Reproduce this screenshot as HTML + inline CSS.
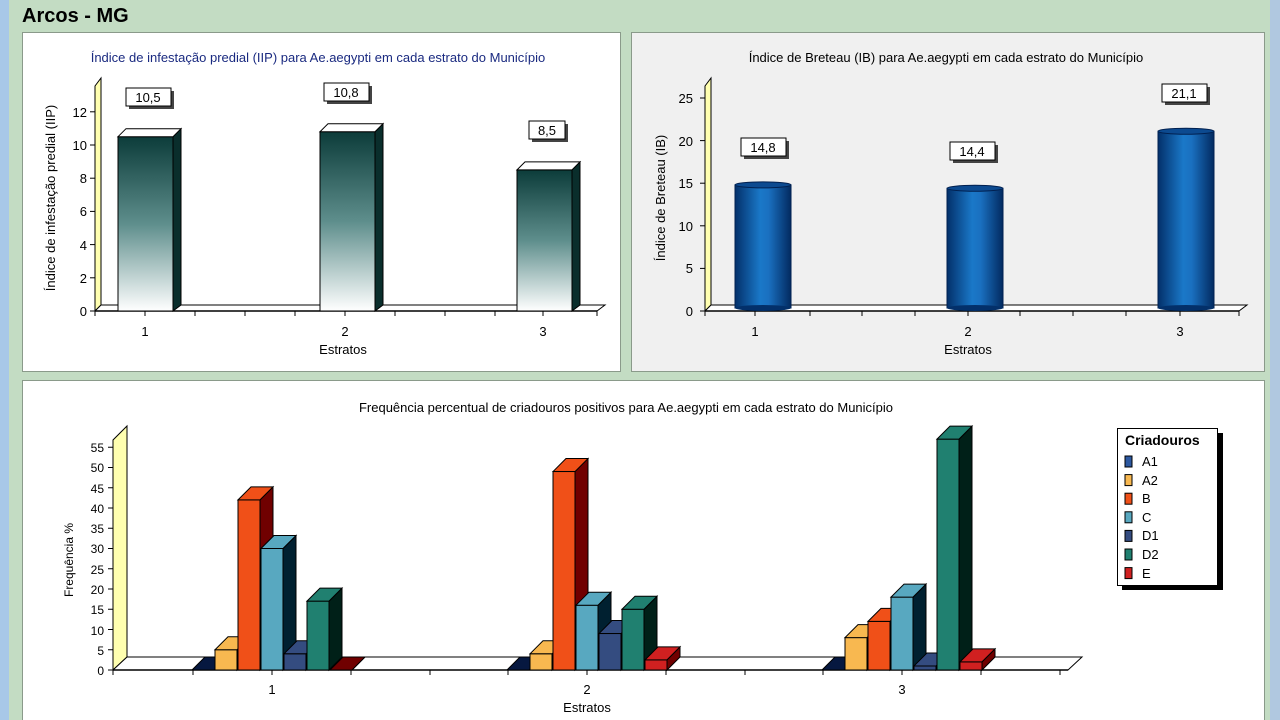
<!DOCTYPE html>
<html><head><meta charset="utf-8"><style>
body{margin:0;width:1280px;height:720px;overflow:hidden;background:#c3dcc3;font-family:"Liberation Sans",sans-serif}
svg{position:absolute;left:0;top:0}
</style></head><body>
<svg width="1280" height="720" viewBox="0 0 1280 720" font-family="Liberation Sans, sans-serif">
<defs>
<linearGradient id="tg" x1="0" y1="0" x2="0" y2="1"><stop offset="0" stop-color="#0c3c3a"/><stop offset="0.5" stop-color="#5e8e8c"/><stop offset="1" stop-color="#ffffff"/></linearGradient>
<linearGradient id="bg" x1="0" y1="0" x2="1" y2="0"><stop offset="0" stop-color="#03306a"/><stop offset="0.45" stop-color="#1a78c8"/><stop offset="0.6" stop-color="#1a70c0"/><stop offset="1" stop-color="#022a60"/></linearGradient>
</defs>
<rect x="0" y="0" width="9" height="720" fill="#a8c8e8"/>
<rect x="1270" y="0" width="10" height="720" fill="#b0c8e0"/>
<text x="22" y="22" font-size="20" font-weight="bold" fill="#000">Arcos - MG</text>
<rect x="22.5" y="32.5" width="598" height="339" fill="#fff" stroke="#8a9a8a"/>
<rect x="631.5" y="32.5" width="633" height="339" fill="#f0f0f0" stroke="#8a9a8a"/>
<rect x="22.5" y="380.5" width="1242" height="345" fill="#fff" stroke="#8a9a8a"/>

<text x="318" y="62" font-size="13" fill="#1a2a80" text-anchor="middle">Índice de infestação predial (IIP) para Ae.aegypti em cada estrato do Município</text>
<polygon points="95,311 95,86 101,78 101,305" fill="#ffffb0" stroke="#000"/>
<polygon points="95,311 101,305 605,305 597,311" fill="#fff" stroke="#000"/>
<line x1="95" y1="311" x2="597" y2="311" stroke="#000" stroke-width="1.5"/>
<g font-size="13" text-anchor="end">
<text x="87" y="316">0</text><text x="87" y="283">2</text><text x="87" y="250">4</text><text x="87" y="216">6</text><text x="87" y="183">8</text><text x="87" y="150">10</text><text x="87" y="117">12</text></g>
<text transform="translate(55,198) rotate(-90)" font-size="13" text-anchor="middle">Índice de infestação predial (IIP)</text>
<g font-size="13" text-anchor="middle"><text x="145" y="336">1</text><text x="345" y="336">2</text><text x="543" y="336">3</text><text x="343" y="354">Estratos</text></g>
<g id="t1" stroke="#000"></g>
<g id="c1"></g>
<g font-size="13" text-anchor="middle">
<rect x="129" y="91" width="45" height="18" fill="#444"/><rect x="126" y="88" width="45" height="18" fill="#fff" stroke="#000"/><text x="148" y="102">10,5</text>
<rect x="327" y="86" width="45" height="18" fill="#444"/><rect x="324" y="83" width="45" height="18" fill="#fff" stroke="#000"/><text x="346" y="97">10,8</text>
<rect x="532" y="124" width="36" height="18" fill="#444"/><rect x="529" y="121" width="36" height="18" fill="#fff" stroke="#000"/><text x="547" y="135">8,5</text></g>

<text x="946" y="62" font-size="13" fill="#000" text-anchor="middle">Índice de Breteau (IB) para Ae.aegypti em cada estrato do Município</text>
<polygon points="705,311 705,86 711,78 711,305" fill="#ffffb0" stroke="#000"/>
<polygon points="705,311 711,305 1247,305 1239,311" fill="#fff" stroke="#000"/>
<line x1="705" y1="311" x2="1239" y2="311" stroke="#000" stroke-width="1.5"/>
<g font-size="13" text-anchor="end">
<text x="693" y="316">0</text><text x="693" y="273">5</text><text x="693" y="231">10</text><text x="693" y="188">15</text><text x="693" y="146">20</text><text x="693" y="103">25</text></g>
<text transform="translate(665,198) rotate(-90)" font-size="13" text-anchor="middle">Índice de Breteau (IB)</text>
<g font-size="13" text-anchor="middle"><text x="755" y="336">1</text><text x="968" y="336">2</text><text x="1180" y="336">3</text><text x="968" y="354">Estratos</text></g>
<g id="c2"></g>
<g font-size="13" text-anchor="middle">
<rect x="744" y="141" width="45" height="18" fill="#444"/><rect x="741" y="138" width="45" height="18" fill="#fff" stroke="#000"/><text x="763" y="152">14,8</text>
<rect x="953" y="145" width="45" height="18" fill="#444"/><rect x="950" y="142" width="45" height="18" fill="#fff" stroke="#000"/><text x="972" y="156">14,4</text>
<rect x="1165" y="87" width="45" height="18" fill="#444"/><rect x="1162" y="84" width="45" height="18" fill="#fff" stroke="#000"/><text x="1184" y="98">21,1</text></g>

<text x="626" y="412" font-size="13" text-anchor="middle">Frequência percentual de criadouros positivos para Ae.aegypti em cada estrato do Município</text>
<polygon points="113,670 113,440 127,426 127,657" fill="#ffffb0" stroke="#000"/>
<polygon points="113,670 127,657 1082,657 1068,670" fill="#fff" stroke="#000"/>
<line x1="113" y1="670" x2="1068" y2="670" stroke="#000" stroke-width="1.5"/>
<g font-size="12" text-anchor="end">
<text x="104" y="675">0</text><text x="104" y="655">5</text><text x="104" y="635">10</text><text x="104" y="614">15</text><text x="104" y="594">20</text><text x="104" y="574">25</text><text x="104" y="553">30</text><text x="104" y="533">35</text><text x="104" y="513">40</text><text x="104" y="493">45</text><text x="104" y="472">50</text><text x="104" y="452">55</text></g>
<text transform="translate(73,560) rotate(-90)" font-size="12" text-anchor="middle">Frequência %</text>
<g font-size="13" text-anchor="middle"><text x="272" y="694">1</text><text x="587" y="694">2</text><text x="902" y="694">3</text><text x="587" y="712">Estratos</text></g>
<g id="c3"></g>
<rect x="1122" y="433" width="101" height="157" fill="#000"/>
<rect x="1117.5" y="428.5" width="100" height="157" fill="#fff" stroke="#000"/>
<text x="1125" y="445" font-size="14" font-weight="bold">Criadouros</text>
<g font-size="13" id="lg">
<text x="1142" y="466">A1</text><text x="1142" y="485">A2</text><text x="1142" y="503">B</text><text x="1142" y="522">C</text><text x="1142" y="540">D1</text><text x="1142" y="559">D2</text><text x="1142" y="578">E</text></g>
</svg>
<script>
var NS="http://www.w3.org/2000/svg";
function el(p,t,a){var e=document.createElementNS(NS,t);for(var k in a)e.setAttribute(k,a[k]);p.appendChild(e);return e;}
var svg=document.querySelector('svg');
var tk=el(svg,'g',{stroke:'#000','stroke-width':1});
function tick(x1,y1,x2,y2){el(tk,'line',{x1:x1,y1:y1,x2:x2,y2:y2});}
for(var v=0;v<=12;v+=2)tick(90,311-v*16.6,95,311-v*16.6);
for(var v=0;v<=25;v+=5)tick(700,311-v*8.52,705,311-v*8.52);
for(var v=0;v<=55;v+=5)tick(108,670-v*4.05,113,670-v*4.05);
[95,145,195,245,295,345,395,445,495,543,597].forEach(function(x){tick(x,311,x,316);});
[705,755,810,862,915,968,1020,1073,1126,1180,1239].forEach(function(x){tick(x,311,x,316);});
[113,193,272,351,430,508,587,666,745,823,902,981,1060].forEach(function(x){tick(x,670,x,675);});
var c1=document.getElementById('c1');
[[118,10.5],[320,10.8],[517,8.5]].forEach(function(b){
 var x=b[0],w=55,d=8,y0=311,yt=y0-b[1]*16.6;
 el(c1,'polygon',{points:[x+w,yt,x+w+d,yt-d,x+w+d,y0-6,x+w,y0].join(' '),fill:'#0a2e2c',stroke:'#000'});
 el(c1,'rect',{x:x,y:yt,width:w,height:y0-yt,fill:'url(#tg)',stroke:'#000'});
 el(c1,'polygon',{points:[x,yt,x+d,yt-d,x+w+d,yt-d,x+w,yt].join(' '),fill:'#fff',stroke:'#000'});
});
var c2=document.getElementById('c2');
[[735,14.8],[947,14.4],[1158,21.1]].forEach(function(b){
 var x=b[0],w=56,y0=308,yt=311-b[1]*8.52;
 el(c2,'rect',{x:x,y:yt,width:w,height:y0-yt,fill:'url(#bg)',stroke:'#012050'});
 el(c2,'ellipse',{cx:x+w/2,cy:y0,rx:w/2,ry:3,fill:'#03306a'});
 el(c2,'ellipse',{cx:x+w/2,cy:yt,rx:w/2,ry:3,fill:'#0c4a90',stroke:'#012050'});
});
var cols=[['#2c58a0','#061840'],['#f8b850','#c06000'],['#f05018','#700000'],['#58a8c0','#002030'],['#344c80','#000a30'],['#208070','#002018'],['#d02020','#700000']];
var data=[[0,5,42,30,4,17,0],[0,4,49,16,9,15,2.5],[0,8,12,18,1,57,2]];
var starts=[192,507,822];
var c3=document.getElementById('c3');
data.forEach(function(g,gi){g.forEach(function(v,i){
 var x=starts[gi]+i*23,w=22,d=13,y0=670,yt=y0-v*4.05;
 el(c3,'polygon',{points:[x+w,yt,x+w+d,yt-d,x+w+d,y0-d,x+w,y0].join(' '),fill:cols[i][1],stroke:'#000'});
 if(v>0)el(c3,'rect',{x:x,y:yt,width:w,height:y0-yt,fill:cols[i][0],stroke:'#000'});
 el(c3,'polygon',{points:[x,yt,x+d,yt-d,x+w+d,yt-d,x+w,yt].join(' '),fill:cols[i][v>0?0:1],stroke:'#000'});
});});
var lg=document.getElementById('lg');
cols.forEach(function(c,i){el(lg,'rect',{x:1125,y:456+i*18.6,width:7,height:11,fill:c[0],stroke:'#000'});});
</script>
</body></html>
